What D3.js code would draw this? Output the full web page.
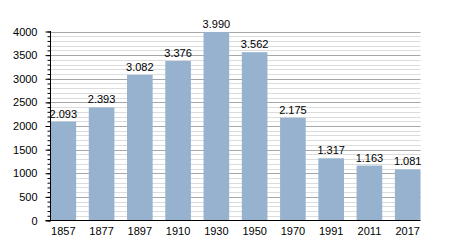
<!DOCTYPE html>
<html>
<head>
<style>
  body { margin: 0; background: #fff; }
  svg text { font-family: "Liberation Sans", Arial, sans-serif; font-size: 11px; fill: #000; }
</style>
<script src="https://d3js.org/d3.v7.min.js"></script>
</head>
<body>
<script>
const years = ["1857", "1877", "1897", "1910", "1930", "1950", "1970", "1991", "2011", "2017"];
const population = [2093, 2393, 3082, 3376, 3990, 3562, 2175, 1317, 1163, 1081];
const yTicks = [0, 500, 1000, 1500, 2000, 2500, 3000, 3500, 4000];

const width = 450, height = 250;
const mLeft = 50.5, mRight = 420.5, mTop = 31.5, mBottom = 220.5;

const svg = d3.select('body').append('svg')
    .attr('width', width)
    .attr('height', height);

const x = d3.scaleBand()
    .domain(years)
    .range([mLeft, mRight])
    .paddingInner(0.33)
    .paddingOuter(0);

const y = d3.scaleLinear()
    .domain([0, 4000])
    .range([mBottom, mTop]);

// minor grid every 100, major every 500
const minor = d3.range(100, 4001, 100).filter(v => v % 500 !== 0);
svg.append('g').selectAll('line')
    .data(minor).join('line')
    .attr('x1', mLeft).attr('x2', mRight)
    .attr('y1', d => Math.round(y(d)) + 0.5).attr('y2', d => Math.round(y(d)) + 0.5)
    .attr('stroke', '#dcdcdc').attr('stroke-width', 1);

svg.append('g').selectAll('line')
    .data(yTicks.filter(d => d > 0)).join('line')
    .attr('x1', mLeft).attr('x2', mRight)
    .attr('y1', d => Math.round(y(d)) + 0.5).attr('y2', d => Math.round(y(d)) + 0.5)
    .attr('stroke', '#a8a8a8').attr('stroke-width', 1);

// bars
svg.append('g').selectAll('rect')
    .data(years).join('rect')
    .attr('x', d => x(d))
    .attr('width', x.bandwidth())
    .attr('y', (d, i) => y(population[i]))
    .attr('height', (d, i) => y(0) - y(population[i]))
    .attr('fill', '#97b2cf');

// value labels, dot as thousands separator
const fmt = d3.formatLocale({ decimal: ',', thousands: '.', grouping: [3], currency: ['', ''] }).format(',d');
svg.append('g').selectAll('text')
    .data(years).join('text')
    .attr('x', d => x(d) + x.bandwidth() / 2)
    .attr('y', (d, i) => y(population[i]) - 4)
    .attr('text-anchor', 'middle')
    .text((d, i) => fmt(population[i]));

// y axis: minor ticks then major
const yMinor = svg.append('g').attr('transform', `translate(${mLeft},0)`)
    .call(d3.axisLeft(y).tickValues(d3.range(0, 4001, 100)).tickSize(3).tickFormat(''));
yMinor.select('.domain').remove();

const yAxis = svg.append('g').attr('transform', `translate(${mLeft},0)`)
    .call(d3.axisLeft(y).tickValues(yTicks).tickSize(5).tickPadding(8).tickFormat(d3.format('d')));
yAxis.select('.domain').attr('d', `M0,${mTop - 0.5}V${mBottom}`);

// x axis
const xAxis = svg.append('g').attr('transform', `translate(0,${mBottom})`)
    .call(d3.axisBottom(x).tickSize(0).tickPadding(7));
xAxis.attr('font-family', null).attr('font-size', null);
yAxis.attr('font-family', null).attr('font-size', null);
xAxis.select('.domain').attr('d', `M${mLeft - 5},0H${mRight}`);
</script>
</body>
</html>
